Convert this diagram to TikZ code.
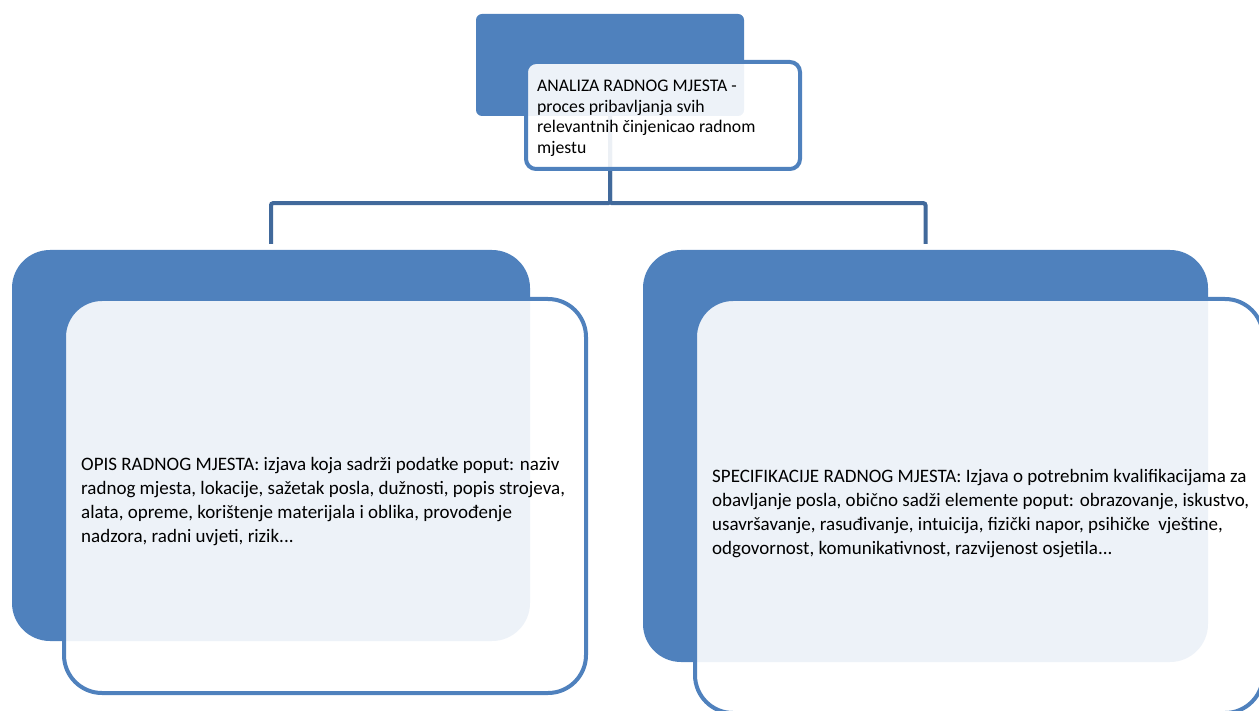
\documentclass[tikz,border=0pt]{standalone}
\usepackage{fontspec}
\setmainfont{Carlito}
\definecolor{accent}{HTML}{4F81BD}
\definecolor{connc}{HTML}{41699B}
\begin{document}
\begin{tikzpicture}[x=1pt,y=-1pt,
  backbox/.style={draw=none,fill=accent,rectangle,inner sep=0pt},
  frontbox/.style={draw=accent,line width=4pt,fill=white,fill opacity=0.9,rectangle,inner sep=0pt},
  conn/.style={draw=connc,line width=4pt,rounded corners=2pt},
  bodytext/.style={inner sep=0pt,align=left,anchor=base west,font=\fontsize{19}{24}\selectfont,text=black},
  toptext/.style={inner sep=0pt,align=left,anchor=base west,font=\fontsize{17.7}{20.5}\selectfont,text=black}]
\useasboundingbox (0,0) rectangle (1259,711);
% back boxes
\node[backbox,minimum width=268pt,minimum height=102pt,rounded corners=6pt] (tback) at (610,65) {};
\node[backbox,minimum width=518pt,minimum height=391pt,rounded corners=38pt] (lback) at (271,445.5) {};
\node[backbox,minimum width=565pt,minimum height=412pt,rounded corners=38pt] (rback) at (925.5,456) {};
% connector ends
\coordinate (lend) at ([yshift=6pt]lback.north);
\coordinate (rend) at ([yshift=6pt]rback.north);
\draw[conn] (tback.south) -- ++(0,-87pt) -| (lend);
\draw[conn] (tback.south) -- ++(0,-87pt) -| (rend);
% front boxes
\node[frontbox,minimum width=274pt,minimum height=107pt,rounded corners=10pt] (tfront) at (663,115.5) {};
\node[frontbox,minimum width=522pt,minimum height=394pt,rounded corners=38pt] (lfront) at (325,496) {};
\node[frontbox,minimum width=568pt,minimum height=414pt,rounded corners=38pt] (rfront) at (979,506) {};
% texts (anchored at the baseline of the last line)
\node[toptext] (ttext) at (537,153.5) {ANALIZA RADNOG MJESTA -\\proces pribavljanja svih\\relevantnih činjenicao radnom\\mjestu};
\node[bodytext] (ltext) at (81,542) {OPIS RADNOG MJESTA: izjava koja sadrži podatke poput: naziv\\radnog mjesta, lokacije, sažetak posla, dužnosti, popis strojeva,\\alata, opreme, korištenje materijala i oblika, provođenje\\nadzora, radni uvjeti, rizik...};
\node[bodytext] (rtext) at (712,554.5) {SPECIFIKACIJE RADNOG MJESTA: Izjava o potrebnim kvalifikacijama za\\obavljanje posla, obično sadži elemente poput: obrazovanje, iskustvo,\\usavršavanje, rasuđivanje, intuicija, fizički napor, psihičke\ \ vještine,\\odgovornost, komunikativnost, razvijenost osjetila...};
\end{tikzpicture}
\end{document}
